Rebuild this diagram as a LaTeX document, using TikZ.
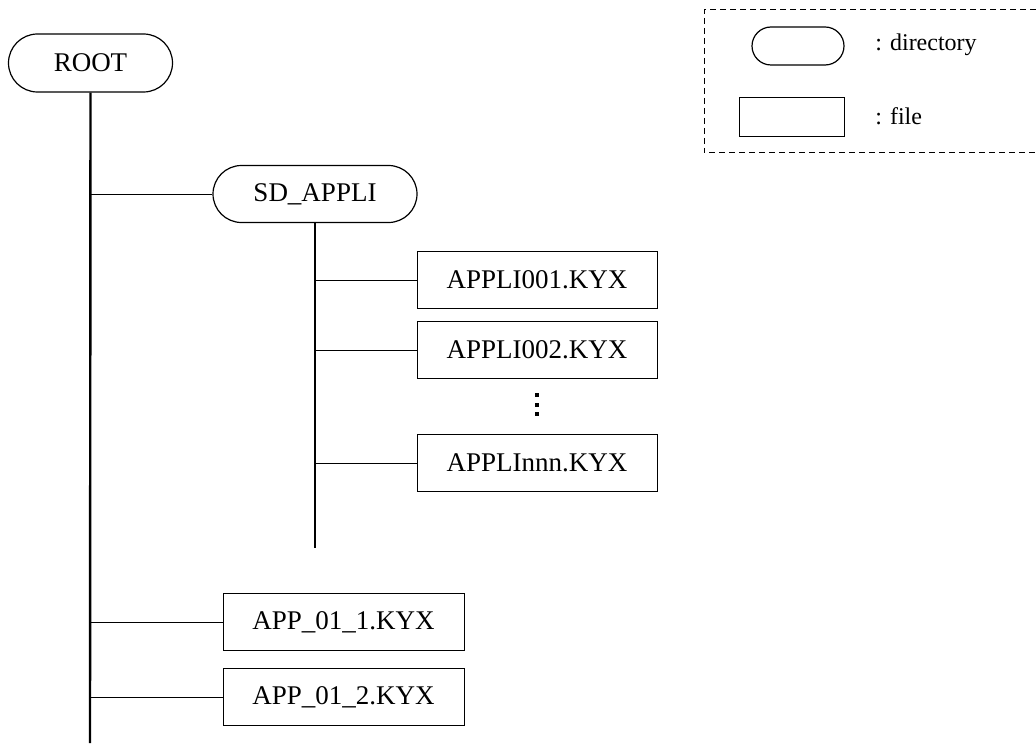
\documentclass[tikz,border=0pt]{standalone}
\usepackage{fontspec}
\setmainfont{Liberation Serif}
\usepackage{tikz}
\usetikzlibrary{
  % rounded ends for directories
  shapes.misc,%
  positioning
}
\tikzset{
  dirnode/.style={rounded rectangle, draw, line width=0.6pt, inner sep=0pt,
    font=\fontsize{13.5}{15}\selectfont},
  filenode/.style={rectangle, draw, line width=0.5pt, inner sep=0pt,
    minimum width=120pt, minimum height=28.5pt,
    font=\fontsize{13.5}{15}\selectfont},
  trunk/.style={line width=1.2pt},
  branch/.style={line width=0.5pt},
  legendtext/.style={anchor=west, inner sep=0pt, font=\fontsize{12}{14}\selectfont},
}

\begin{document}
\begin{tikzpicture}[x=0.5pt, y=-0.5pt]
  \useasboundingbox (0,0) rectangle (1036,743);

  % directories
  \node[dirnode, minimum width=82pt, minimum height=29pt] (root) at (90.5,63) {ROOT};
  \node[dirnode, minimum width=102pt, minimum height=28.5pt] (sdappli) at (315,194) {SD\_APPLI};

  % files below SD_APPLI
  \node[filenode] (appli1) at (537,280) {APPLI001.KYX};
  \node[filenode] (appli2) at (537,350) {APPLI002.KYX};
  \node[filenode] (applin) at (537,463) {APPLInnn.KYX};

  % files below ROOT
  \node[filenode, minimum width=120.5pt] (app1) at (343.5,622) {APP\_01\_1.KYX};
  \node[filenode, minimum width=120.5pt] (app2) at (343.5,697) {APP\_01\_2.KYX};

  \coordinate (rootend) at (90,743);
  \coordinate (sdend) at (315,548);

  % tree lines
  \draw[trunk] (root.south) -- (rootend);
  \draw[trunk] (sdappli.south) -- (sdend);
  \foreach \n in {sdappli, app1, app2}
    \draw[branch] (root.south |- \n.west) -- (\n.west);
  \foreach \n in {appli1, appli2, applin}
    \draw[branch] (sdappli.south |- \n.west) -- (\n.west);

  % vertical ellipsis
  \foreach \y in {395,405,414}
    \fill (535,\y-2) rectangle (539,\y+2);

  % legend
  \draw[dashed, line width=0.5pt, dash pattern=on 3pt off 2pt] (1036,10) -| (704,153) -- (1036,153);
  \node[dirnode, minimum width=46pt, minimum height=19pt] (legdir) at (798,46) {};
  \node[filenode, minimum width=52.5pt, minimum height=19.5pt] (legfile) at (791.5,117.5) {};
  \node[legendtext] (legdirtext) at (875,45) {: directory};
  \node[legendtext] (legfiletext) at (875,116) {: file};
\end{tikzpicture}
\end{document}
